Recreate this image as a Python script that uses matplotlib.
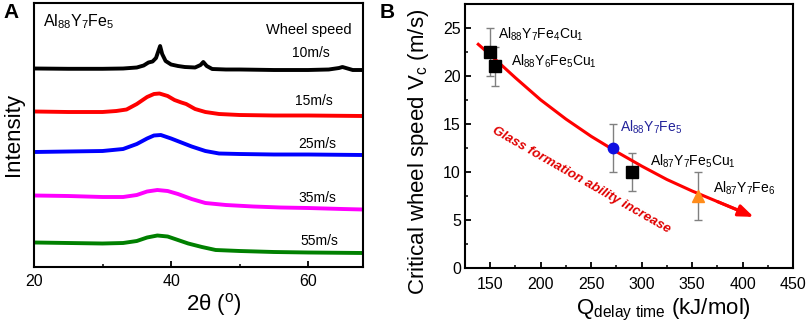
import matplotlib
matplotlib.use("Agg")
import matplotlib.pyplot as plt

plt.rcParams['font.family'] = ['Liberation Sans', 'DejaVu Sans']
plt.rcParams['mathtext.fontset'] = 'custom'
plt.rcParams['mathtext.rm'] = 'Liberation Sans'
plt.rcParams['mathtext.it'] = 'Liberation Sans:italic'
plt.rcParams['mathtext.bf'] = 'Liberation Sans:bold'

# ---------------- Panel A data (XRD, offset heights) ----------------
speed_labels = ['10m/s', '15m/s', '25m/s', '35m/s', '55m/s']
speed_colors = ['#000000', '#ff0000', '#0000ff', '#ff00ff', '#008000']

x_10 = [20, 25, 30, 33, 35, 36, 36.7, 37.3, 37.8, 38.2, 38.4, 38.7, 39.2, 40, 41, 42, 43.5,
        44.3, 44.7, 45.2, 46, 48, 50, 55, 60, 63, 64.5, 65, 65.5, 66.5, 68]
y_10 = [198.5, 198.2, 198.2, 198.5, 199.5, 201.5, 204.5, 205.5, 209, 217, 221, 213, 206, 202.5,
        201, 200, 199.5, 202, 205, 201, 198, 197.5, 197.5, 197, 197, 197.5, 199, 200, 199, 197, 197]

x_15 = [20, 25, 30, 32, 33.5, 35, 36.5, 37.5, 38.3, 39.5, 40.5, 41.5, 42.2, 43.5, 45, 47, 50, 55, 60, 68]
y_15 = [155.5, 155, 155, 156, 157.5, 163, 170, 173, 173.5, 171, 167, 164.5, 163, 158, 155, 153,
        152, 151.5, 151.5, 151]

x_25 = [20, 25, 30, 33, 35, 36.5, 37.5, 38.5, 40, 41.5, 43, 45, 47, 50, 55, 60, 68]
y_25 = [115, 115.5, 116, 118, 123, 128.5, 131.5, 132, 128.5, 124.5, 120.5, 116, 113.5, 113,
        112.5, 112.5, 112]

x_35 = [20, 25, 30, 33, 35, 36.5, 38, 39.5, 41, 43, 45, 48, 52, 56, 60, 65, 68]
y_35 = [71.5, 71, 70, 70, 72, 75.5, 77, 76, 73, 68, 64, 62, 60.5, 59.5, 59, 58, 57.5]

x_55 = [20, 25, 30, 33, 35, 36.5, 38, 39.5, 41, 42.5, 44.5, 46.5, 50, 55, 60, 68]
y_55 = [24.5, 24, 23.5, 24, 26, 29.5, 31.5, 30.5, 27, 23.5, 20, 17, 16, 15, 14.5, 14]

label_x = [60.4, 60.9, 61.3, 61.4, 61.6]
label_y = [214, 166, 123, 69, 26]

# ---------------- Panel B data ----------------
alloys = [r'$\mathregular{Al_{88}Y_7Fe_4Cu_1}$', r'$\mathregular{Al_{88}Y_6Fe_5Cu_1}$',
          r'$\mathregular{Al_{88}Y_7Fe_5}$', r'$\mathregular{Al_{87}Y_7Fe_5Cu_1}$',
          r'$\mathregular{Al_{87}Y_7Fe_6}$']
q_vals = [150, 155, 272, 290, 356]
vc_vals = [22.5, 21, 12.5, 10, 7.5]
vc_err = [2.5, 2, 2.5, 2, 2.5]
markers = ['s', 's', 'o', 's', '^']
mcolors = ['#000000', '#000000', '#1010e0', '#000000', '#ff8c1a']
lab_x = [157.5, 171, 278.5, 308, 371]
lab_y = [24.3, 21.5, 14.6, 11.1, 8.3]
lab_colors = ['#000000', '#000000', '#22229a', '#000000', '#000000']

trend_q = [137, 150, 175, 200, 225, 250, 275, 300, 325, 350, 375, 397, 411]
trend_v = [23.4, 22.2, 19.8, 17.5, 15.5, 13.7, 12.1, 10.6, 9.2, 8.0, 6.9, 5.95, 5.3]

fig = plt.figure(figsize=(8.09, 3.28), dpi=100)

# ---------------- Panel A ----------------
axA = fig.add_axes([34/809, 1-267/328, 329/809, 264/328])
series = [(x_10, y_10), (x_15, y_15), (x_25, y_25), (x_35, y_35), (x_55, y_55)]
for (xs, ys), c in zip(series, speed_colors):
    axA.plot(xs, ys, color=c, lw=2.8, solid_joinstyle='round')
for lx, ly, lt in zip(label_x, label_y, speed_labels):
    axA.text(lx, ly, lt, ha='center', va='center', fontsize=10)
axA.text(0.027, 0.93, r'$\mathregular{Al_{88}Y_7Fe_5}$', transform=axA.transAxes,
         fontsize=11.5, ha='left', va='center')
axA.text(0.705, 0.898, 'Wheel speed', transform=axA.transAxes, fontsize=10.5,
         ha='left', va='center')
axA.set_xlim(20, 68)
axA.set_ylim(0, 264)
axA.set_xticks([20, 40, 60])
axA.set_xticks([30, 50], minor=True)
axA.set_yticks([])
axA.tick_params(axis='x', which='major', direction='in', length=4, width=1.3,
                labelsize=11.5, pad=5)
axA.tick_params(axis='x', which='minor', direction='in', length=2.5, width=1.1)
for s in axA.spines.values():
    s.set_linewidth(1.5)
axA.set_xlabel(r'2θ ($^{\mathregular{o}}$)', fontsize=16)
axA.xaxis.set_label_coords(0.547, -0.09)
axA.set_ylabel('Intensity', fontsize=16, va='center')
axA.yaxis.set_label_coords(-0.062, 0.5)
fig.text(3/809, 1-12.5/328, 'A', fontsize=15, fontweight='bold', ha='left', va='center')

# ---------------- Panel B ----------------
axB = fig.add_axes([465/809, 1-267.7/328, 328/809, 263.7/328])
axB.plot(trend_q[:-1], trend_v[:-1], color='#ff0000', lw=2.2, solid_capstyle='butt', zorder=3)
axB.annotate('', xy=(trend_q[-1], trend_v[-1]), xytext=(trend_q[-3], trend_v[-3]),
             arrowprops=dict(arrowstyle='-|>,head_length=0.9,head_width=0.35',
                             color='#ff0000', lw=2.2, shrinkA=0, shrinkB=0), zorder=3)
for q, v, e, m, c in zip(q_vals, vc_vals, vc_err, markers, mcolors):
    axB.errorbar(q, v, yerr=e, fmt='none', ecolor='#808080', elinewidth=1, capsize=3,
                 capthick=1, zorder=2)
    axB.plot(q, v, marker=m, color=c, markersize=8 if m != 'o' else 7.5,
             linestyle='none', zorder=4)
for lx, ly, lt, c in zip(lab_x, lab_y, alloys, lab_colors):
    axB.text(lx, ly, lt, ha='left', va='center', fontsize=10, color=c)
axB.text(240, 9.1, 'Glass formation ability increase', rotation=-29.7,
         rotation_mode='anchor', ha='center', va='center', fontsize=9.6,
         fontweight='bold', fontstyle='italic', color='#e00000')
axB.set_xlim(125, 450)
axB.set_ylim(0, 27.5)
axB.set_xticks([150, 200, 250, 300, 350, 400, 450])
axB.set_xticks([175, 225, 275, 325, 375, 425], minor=True)
axB.set_yticks([0, 5, 10, 15, 20, 25])
axB.set_yticks([2.5, 7.5, 12.5, 17.5, 22.5], minor=True)
axB.tick_params(which='major', direction='in', length=4, width=1.3, labelsize=11.5)
axB.tick_params(which='minor', direction='in', length=2.5, width=1.1)
axB.tick_params(axis='x', pad=7)
axB.tick_params(axis='y', pad=3)
for s in axB.spines.values():
    s.set_linewidth(1.5)
axB.set_xlabel(r'$\mathregular{Q_{delay\ time}}$ (kJ/mol)', fontsize=16, va='top')
axB.xaxis.set_label_coords(0.604, -0.11)
axB.set_ylabel(r'Critical wheel speed $\mathregular{V_c}$ (m/s)', fontsize=16, va='center')
axB.yaxis.set_label_coords(-0.143, 0.44)
fig.text(380/809, 1-12.5/328, 'B', fontsize=15, fontweight='bold', ha='left', va='center')

fig.savefig('out.png', dpi=100)
